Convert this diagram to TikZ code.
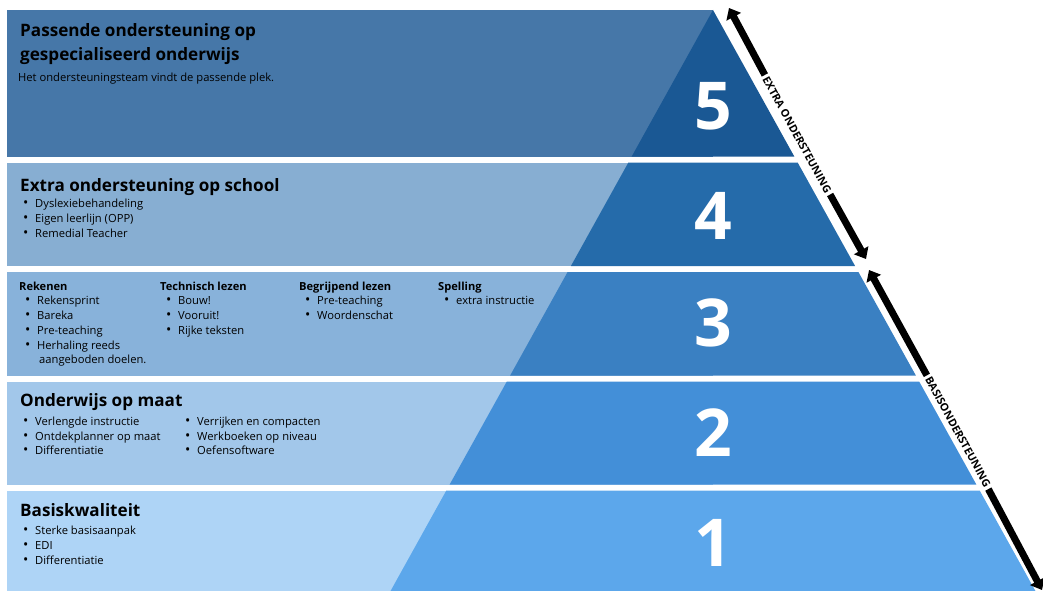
\documentclass[tikz,border=0pt]{standalone}
\usepackage{fontspec}
\setmainfont{Open Sans}
\usetikzlibrary{arrows.meta,calc}
\definecolor{r5}{HTML}{4677A8}
\definecolor{p5}{HTML}{1A5894}
\definecolor{r4}{HTML}{87AED2}
\definecolor{p4}{HTML}{256BAA}
\definecolor{r3}{HTML}{88B2DA}
\definecolor{p3}{HTML}{3A80C2}
\definecolor{r2}{HTML}{A2C7EA}
\definecolor{p2}{HTML}{438FD8}
\definecolor{r1}{HTML}{AED4F6}
\definecolor{p1}{HTML}{5CA7EB}
\newcommand{\bul}[1]{\makebox[12pt][l]{\raisebox{-0.2pt}{\scalebox{1.25}{\textbullet}}}#1}
\tikzset{
  title/.style={anchor=base west, inner sep=0pt, font=\fontsize{17.1}{19}\selectfont\bfseries},
  head/.style={anchor=base west, inner sep=0pt, font=\fontsize{11.1}{12}\selectfont\bfseries},
  itm/.style={anchor=base west, inner sep=0pt, font=\fontsize{11.2}{12}\selectfont},
  num/.style={text=white, inner sep=0pt, font=\fontsize{66}{66}\selectfont\bfseries},
  side/.style={inner sep=2.5pt, rotate=-61.2, font=\fontsize{10.8}{11}\selectfont\bfseries},
  bigarrow/.style={line width=7pt, -{Triangle[length=10pt,width=16pt]}},
}
\begin{document}
\begin{tikzpicture}[x=1pt,y=-1pt]
\useasboundingbox (0,0) rectangle (1043,591);
% background rectangles
\fill[r5] (7,10) rectangle (713,156.5);
\fill[r4] (7,162.5) rectangle (713,266);
\fill[r3] (7,272) rectangle (713,375.5);
\fill[r2] (7,381.5) rectangle (713,484.5);
\fill[r1] (7,490.5) rectangle (713,591);
% pyramid bands (apex 713,10; slope 0.555)
\coordinate (apex) at (713,10);
\fill[p5] (713,10) -- ({713+0.555*146.5},156.5) -- ({713-0.555*146.5},156.5) -- cycle;
\fill[p4] ({713-0.555*152.5},162.5) -- ({713+0.555*152.5},162.5) -- ({713+0.555*256},266) -- ({713-0.555*256},266) -- cycle;
\fill[p3] ({713-0.555*262},272) -- ({713+0.555*262},272) -- ({713+0.555*365.5},375.5) -- ({713-0.555*365.5},375.5) -- cycle;
\fill[p2] ({713-0.555*371.5},381.5) -- ({713+0.555*371.5},381.5) -- ({713+0.555*474.5},484.5) -- ({713-0.555*474.5},484.5) -- cycle;
\fill[p1] ({713-0.555*480.5},490.5) -- ({713+0.555*480.5},490.5) -- ({713+0.555*581},591) -- ({713-0.555*581},591) -- cycle;
% numbers
\node[num] (n5) at (713,106) {5};
\node[num] (n4) at (713,216) {4};
\node[num] (n3) at (713,323) {3};
\node[num] (n2) at (713,433) {2};
\node[num] (n1) at (713,543) {1};
% band 5 text
\node[title] (t5a) at (20,37) {Passende ondersteuning op};
\node[title] (t5b) at (20,61) {gespecialiseerd onderwijs};
\node[itm] (t5c) at (18,82) {Het ondersteuningsteam vindt de passende plek.};
% band 4
\node[title] (t4) at (20,191) {Extra ondersteuning op school};
\node[itm] (t4a) at (23,207) {\bul{Dyslexiebehandeling}};
\node[itm] (t4b) at (23,222) {\bul{Eigen leerlijn (OPP)}};
\node[itm] (t4c) at (23,237) {\bul{Remedial Teacher}};
% band 3
\node[head] (h3a) at (19,290) {Rekenen};
\node[itm] (a1) at (25,304) {\bul{Rekensprint}};
\node[itm] (a2) at (25,319) {\bul{Bareka}};
\node[itm] (a3) at (25,334) {\bul{Pre-teaching}};
\node[itm] (a4) at (25,349) {\bul{Herhaling reeds}};
\node[itm] (a5) at (39,363) {aangeboden doelen.};
\node[head] (h3b) at (160,290) {Technisch lezen};
\node[itm] (b1) at (166,304) {\bul{Bouw!}};
\node[itm] (b2) at (166,319) {\bul{Vooruit!}};
\node[itm] (b3) at (166,334) {\bul{Rijke teksten}};
\node[head] (h3c) at (299,290) {Begrijpend lezen};
\node[itm] (c1) at (305,304) {\bul{Pre-teaching}};
\node[itm] (c2) at (305,319) {\bul{Woordenschat}};
\node[head] (h3d) at (438,290) {Spelling};
\node[itm] (d1) at (444,304) {\bul{extra instructie}};
% band 2
\node[title] (t2) at (20,406) {Onderwijs op maat};
\node[itm] (e1) at (23,425) {\bul{Verlengde instructie}};
\node[itm] (e2) at (23,440) {\bul{Ontdekplanner op maat}};
\node[itm] (e3) at (23,454) {\bul{Differentiatie}};
\node[itm] (f1) at (185,425) {\bul{Verrijken en compacten}};
\node[itm] (f2) at (185,440) {\bul{Werkboeken op niveau}};
\node[itm] (f3) at (185,454) {\bul{Oefensoftware}};
% band 1
\node[title] (t1) at (20,516) {Basiskwaliteit};
\node[itm] (g1) at (23,534) {\bul{Sterke basisaanpak}};
\node[itm] (g2) at (23,549) {\bul{EDI}};
\node[itm] (g3) at (23,564) {\bul{Differentiatie}};
% side arrows
\coordinate (ea) at (729,8);
\coordinate (eb) at (866,259);
\node[side] (el) at (797,135) {EXTRA ONDERSTEUNING};
\draw[bigarrow] (el) -- (ea);
\draw[bigarrow] (el) -- (eb);
\coordinate (ba) at (869,270);
\coordinate (bb) at (1042,590);
\node[side] (bl) at (958,432) {BASISONDERSTEUNING};
\draw[bigarrow] (bl) -- (ba);
\draw[bigarrow] (bl) -- (bb);
\end{tikzpicture}
\end{document}
